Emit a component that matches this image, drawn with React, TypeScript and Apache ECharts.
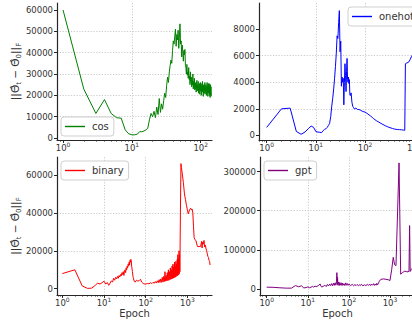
import React, { useEffect, useRef } from "react";
import * as echarts from "echarts";

// ---------- data ----------
const cosEpochs = Array.from({ length: 142 }, (_, i) => i + 1);
const cosValues = [
  60000, 23000, 11500, 18000, 11500, 9500, 9300, 3800, 2000, 1500,
  1500, 1800, 3000, 2900, 3300, 3800, 4500, 8500, 11500, 10000,
  12500, 9500, 14500, 11000, 18500, 12000, 16000, 13500, 17500, 21000,
  19000, 24500, 28500, 26000, 31000, 34000, 36500, 35000, 41000, 45500,
  44000, 47500, 51000, 43000, 48500, 46000, 50500, 42000, 47000, 53500,
  44000, 45500, 38000, 43500, 40500, 36000, 41000, 39000, 41500, 34000,
  33000, 30000, 34500, 29500, 31000, 28000, 33000, 27500, 29000, 25000,
  31000, 26500, 28500, 24000, 27000, 25000, 30000, 23000, 26500, 24500,
  28000, 22500, 25500, 23000, 26000, 21500, 24500, 27000, 22000, 25000,
  23500, 26500, 21000, 24000, 22500, 25500, 20500, 23500, 26000, 22000,
  24500, 20000, 23000, 25500, 21500, 26500, 22000, 24000, 19500, 23000,
  25000, 21000, 24500, 22500, 26000, 20500, 23500, 21500, 25000, 22000,
  24000, 20000, 23500, 26000, 21500, 24500, 19500, 23000, 25500, 21000,
  24000, 22000, 25500, 20000, 23000, 24500, 19000, 22500, 25000, 20000,
  24000, 19500,
];

const onehotEpochs = [
  1, 2, 3, 4, 5, 6, 7, 8, 9, 10, 11, 12, 13, 14, 15, 16, 17, 18, 19, 20,
  21, 22, 23, 24, 25, 26, 27, 28, 29, 30, 31, 32, 33, 34, 35, 36, 37, 38, 39, 40,
  41, 42, 43, 44, 45, 46, 47, 48, 49, 50, 52, 54, 56, 58, 60, 65, 70, 75, 80, 90,
  100, 110, 120, 130, 140, 150, 170, 190, 210, 230, 260, 290, 320, 360, 400, 450,
  500, 550, 600, 640, 660, 700, 760, 820, 880, 940, 1000,
];
const onehotValues = [
  600, 2000, 2050, 300, 80, 250, 500, 700, 600, 280, 250, 230, 200, 350, 450, 500, 600, 750, 900, 1400,
  2200, 2800, 3500, 4300, 5200, 6200, 7500, 7300, 8500, 9400, 6300, 7100, 3700, 4400, 4000, 4300, 2300, 4000, 5400, 4500,
  3300, 4800, 5800, 4200, 4000, 4400, 3900, 4200, 3100, 3000, 3200, 2500, 2200, 2100, 2000, 2050, 1950, 1950, 1900, 1800,
  1750, 1650, 1550, 1450, 1350, 1250, 1100, 1000, 900, 820, 720, 640, 580, 520, 470, 440,
  430, 420, 400, 380, 5400, 5450, 5500, 5700, 5950, 6100, 6300,
];

const binaryEpochs = [
  1, 2, 3, 4, 5, 6, 7, 8, 9, 10, 11, 12, 13, 14, 15, 16, 17, 18, 19, 20,
  21, 22, 23, 24, 25, 26, 27, 28, 29, 30, 31, 32, 33, 34, 35, 36, 37, 38, 39, 40,
  41, 42, 43, 44, 45, 46, 48, 50, 53, 56, 60, 65, 70, 75, 80, 85, 90, 100,
  110, 120, 130, 140, 150, 160, 170, 180, 190, 200, 210, 220, 230, 240, 250, 260, 270, 280, 290, 300,
  310, 320, 330, 340, 350, 360, 370, 380, 390, 400, 410, 420, 430, 440, 450, 460, 470, 480, 490, 500,
  510, 520, 530, 540, 550, 560, 570, 580, 590, 600, 610, 620, 630, 640, 650, 660, 680, 700, 720, 760,
  800, 850, 900, 950, 1000, 1050, 1100, 1150, 1200, 1250, 1300, 1350, 1400, 1450, 1500, 1600, 1700, 1800,
  1900, 2000, 2100, 2200, 2250, 2300, 2400, 2500, 2600, 2700, 2800, 2900, 3000, 3100, 3200, 3300, 3400, 3500,
];
const binaryValues = [
  8000, 10000, 1500, 200, 300, 1500, 3000, 2500, 3200, 4000, 2500, 3300, 1800, 3000, 4200, 3500, 5500, 4500, 6000, 5200,
  6500, 5500, 7000, 6200, 7500, 6800, 8500, 7500, 9000, 7000, 9500, 10000, 8500, 11000, 10000, 12000, 11000, 13000, 12000, 14000,
  12500, 15000, 14000, 15500, 15000, 12000, 9000, 6000, 4000, 3500, 4500, 4000, 4300, 5000, 3500, 3000, 2600, 2400,
  2800, 2600, 3200, 2700, 3400, 2900, 3800, 3000, 4200, 3200, 4800, 3300, 5200, 3400, 6000, 3500, 6500, 3800, 9000, 4000,
  7000, 4200, 8500, 4300, 10000, 4500, 9000, 4800, 11000, 5000, 10000, 5200, 12000, 5400, 13000, 5600, 11500, 5800, 14000, 6000,
  12000, 6200, 14500, 6500, 13000, 6800, 15500, 7000, 18000, 7200, 16000, 7500, 20000, 8000, 18000, 9000, 40000, 66000, 64000, 60000,
  56000, 50000, 47000, 44000, 41500, 39500, 41000, 42000, 42500, 41500, 42000, 40000, 33000, 27000, 26000, 25500, 23000, 22000,
  22500, 22000, 23000, 25000, 21500, 24500, 23500, 25500, 22000, 23000, 21000, 20000, 18500, 17000, 16500, 15000, 14500, 12500,
];

const gptEpochs = [
  1, 1.5, 2, 3, 4, 5, 6, 7, 8, 9, 10, 11, 12, 13, 14, 15, 16, 18, 20, 21,
  22, 24, 26, 28, 30, 32, 34, 36, 38, 40, 42, 44, 46, 48, 50, 51, 52, 53, 54, 56,
  58, 60, 62, 65, 68, 70, 73, 76, 80, 84, 88, 92, 96, 100, 110, 120, 130, 140, 150, 160,
  170, 180, 190, 200, 220, 240, 260, 280, 300, 320, 340, 360, 380, 400, 420, 440, 460, 480, 500, 520,
  550, 600, 700, 800, 900, 1000, 1100, 1200, 1300, 1400, 1660, 1820, 2000, 2300, 2600, 2900, 3000, 3100,
  3300, 3600, 3900,
];
const gptValues = [
  5000, 4500, 3500, 2500, 2500, 9000, 6000, 8500, 3000, 4000, 5500, 3500, 5000, 7000, 5000, 8000, 6000, 9000, 13000, 7000,
  5500, 7500, 10000, 6500, 12000, 8000, 13000, 9000, 14000, 8500, 15000, 9500, 16000, 10000, 20000, 42000, 12000, 30000, 10000, 18000,
  9000, 17000, 10000, 16000, 9000, 15000, 10000, 14000, 9000, 16000, 10000, 14000, 9500, 13000, 9000, 12000, 8500, 11500, 9000, 12000,
  8500, 11000, 9000, 12500, 8500, 11000, 9000, 12000, 9500, 13000, 9000, 12500, 10000, 14000, 9500, 13000, 10000, 15000, 11000, 14000,
  20000, 25000, 26000, 25000, 24000, 22000, 50000, 81000, 62000, 60000, 322000, 38000, 42000, 46000, 44000, 45000, 162000, 45000,
  50000, 55000, 52000,
];

const xTicksTop = [1, 10, 100];
const xTicksTopRight = [1, 10, 100, 1000];
const xTicksBottom = [1, 10, 100, 1000];
const yTicksCos = [0, 10000, 20000, 30000, 40000, 50000, 60000];
const yTicksOnehot = [0, 2000, 4000, 6000, 8000];
const yTicksBinary = [0, 20000, 40000, 60000];
const yTicksGpt = [0, 100000, 200000, 300000];

const zip = (xs: number[], ys: number[]) => xs.map((x, i) => [x, ys[i]]);

const FONT = "DejaVu Sans";
const TXT = "#333";
const AXIS = "#262626";
const GRIDC = "#c4c4c4";

const xLabelRich = {
  b: { fontSize: 8.5, lineHeight: 14, color: TXT, fontFamily: FONT },
  s: { fontSize: 6, lineHeight: 6, verticalAlign: "top", color: TXT, fontFamily: FONT },
};

function xAxis(gridIndex: number, min: number, max: number, ticks: number[], withName: boolean) {
  return {
    type: "log",
    logBase: 10,
    gridIndex,
    min,
    max,
    name: withName ? "Epoch" : "",
    nameLocation: "middle",
    nameGap: 13,
    nameTextStyle: { fontSize: 10, color: TXT, fontFamily: FONT },
    axisLine: { show: true, onZero: false, lineStyle: { color: AXIS, width: 1.2 } },
    axisTick: { show: true, length: 3, customValues: ticks, lineStyle: { color: AXIS, width: 1 } },
    minorTick: { show: true, splitNumber: 9, length: 1.6, lineStyle: { color: AXIS, width: 0.8 } },
    axisLabel: {
      customValues: ticks,
      margin: 1,
      hideOverlap: false,
      formatter: (v: number) => `{b|10}{s|${Math.round(Math.log10(v))}}`,
      rich: xLabelRich,
    },
    splitLine: {
      show: true,
      showMinLine: false,
      showMaxLine: false,
      lineStyle: { color: GRIDC, width: 0.9, type: [1.2, 1.6] },
    },
  };
}

function yAxis(gridIndex: number, min: number, max: number, ticks: number[], withName: boolean, splitNumber: number) {
  return {
    type: "value",
    gridIndex,
    min,
    max,
    splitNumber,
    name: withName ? "{a|||Θ̂}{s|t}{a| − Θ̂}{s|0}{a|||}{s|F}" : "",
    nameLocation: "middle",
    nameRotate: 90,
    nameGap: 33,
    nameTextStyle: {
      fontSize: 10,
      color: TXT,
      fontFamily: FONT,
      rich: {
        a: { fontSize: 10.5, lineHeight: 14, color: TXT, fontFamily: FONT },
        s: { fontSize: 7, lineHeight: 7, verticalAlign: "bottom", color: TXT, fontFamily: FONT },
      },
    },
    axisLine: { show: true, onZero: false, lineStyle: { color: AXIS, width: 1.2 } },
    axisTick: { show: true, length: 3, customValues: ticks, lineStyle: { color: AXIS, width: 1 } },
    axisLabel: {
      customValues: ticks,
      margin: 4,
      fontSize: 8.5,
      color: TXT,
      fontFamily: FONT,
      formatter: (v: number) => String(v),
    },
    splitLine: {
      show: true,
      showMinLine: false,
      showMaxLine: false,
      lineStyle: { color: GRIDC, width: 0.9, type: [1.2, 1.6] },
    },
  };
}

function legend(name: string, left: number, top: number) {
  return {
    data: [name],
    left,
    top,
    orient: "vertical",
    icon: "rect",
    itemWidth: 20,
    itemHeight: 1.4,
    padding: [4, 5, 4, 4],
    backgroundColor: "rgba(255,255,255,0.85)",
    borderColor: "#cfcfcf",
    borderWidth: 1,
    borderRadius: 3,
    textStyle: { fontSize: 10, color: TXT, fontFamily: FONT, lineHeight: 11, padding: [0, 0, 0, 2] },
  };
}

function line(name: string, idx: number, data: number[][], color: string) {
  return {
    name,
    type: "line",
    xAxisIndex: idx,
    yAxisIndex: idx,
    data,
    showSymbol: false,
    symbol: "none",
    clip: true,
    color,
    lineStyle: { color, width: 1 },
  };
}

const gridBase = { outerBoundsMode: "none", containLabel: false };

export default function App() {
  const ref = useRef<HTMLDivElement>(null);
  useEffect(() => {
    if (!ref.current) return;
    const chart = echarts.init(ref.current, null, { renderer: "svg" });
    chart.setOption({
      animation: false,
      textStyle: { fontFamily: FONT },
      grid: [
        { ...gridBase, left: 57, top: 3, width: 155, height: 137 },
        { ...gridBase, left: 259, top: 3, width: 155.5, height: 137 },
        { ...gridBase, left: 57, top: 157, width: 155, height: 138 },
        { ...gridBase, left: 260, top: 157, width: 155, height: 138 },
      ],
      xAxis: [
        xAxis(0, 0.817, 146, xTicksTop, false),
        xAxis(1, 0.698, 1010, xTicksTopRight, false),
        xAxis(2, 0.746, 3890, xTicksBottom, true),
        xAxis(3, 0.687, 4060, xTicksBottom, true),
      ],
      yAxis: [
        yAxis(0, -940, 63280, yTicksCos, true, 6),
        yAxis(1, -350, 9975, yTicksOnehot, false, 5),
        yAxis(2, -3300, 69500, yTicksBinary, true, 3),
        yAxis(3, -15000, 337000, yTicksGpt, false, 3),
      ],
      legend: [
        legend("cos", 61, 117),
        legend("onehot", 348, 7),
        legend("binary", 61, 161),
        legend("gpt", 264, 161),
      ],
      series: [
        line("cos", 0, zip(cosEpochs, cosValues), "#008000"),
        line("onehot", 1, zip(onehotEpochs, onehotValues), "#0000ff"),
        line("binary", 2, zip(binaryEpochs, binaryValues), "#ff0000"),
        line("gpt", 3, zip(gptEpochs, gptValues), "#800080"),
      ],
    });
    return () => chart.dispose();
  }, []);
  return (
    <div
      ref={ref}
      style={{ position: "absolute", left: 0, top: 0, width: 412, height: 320, background: "#fff" }}
    />
  );
}
